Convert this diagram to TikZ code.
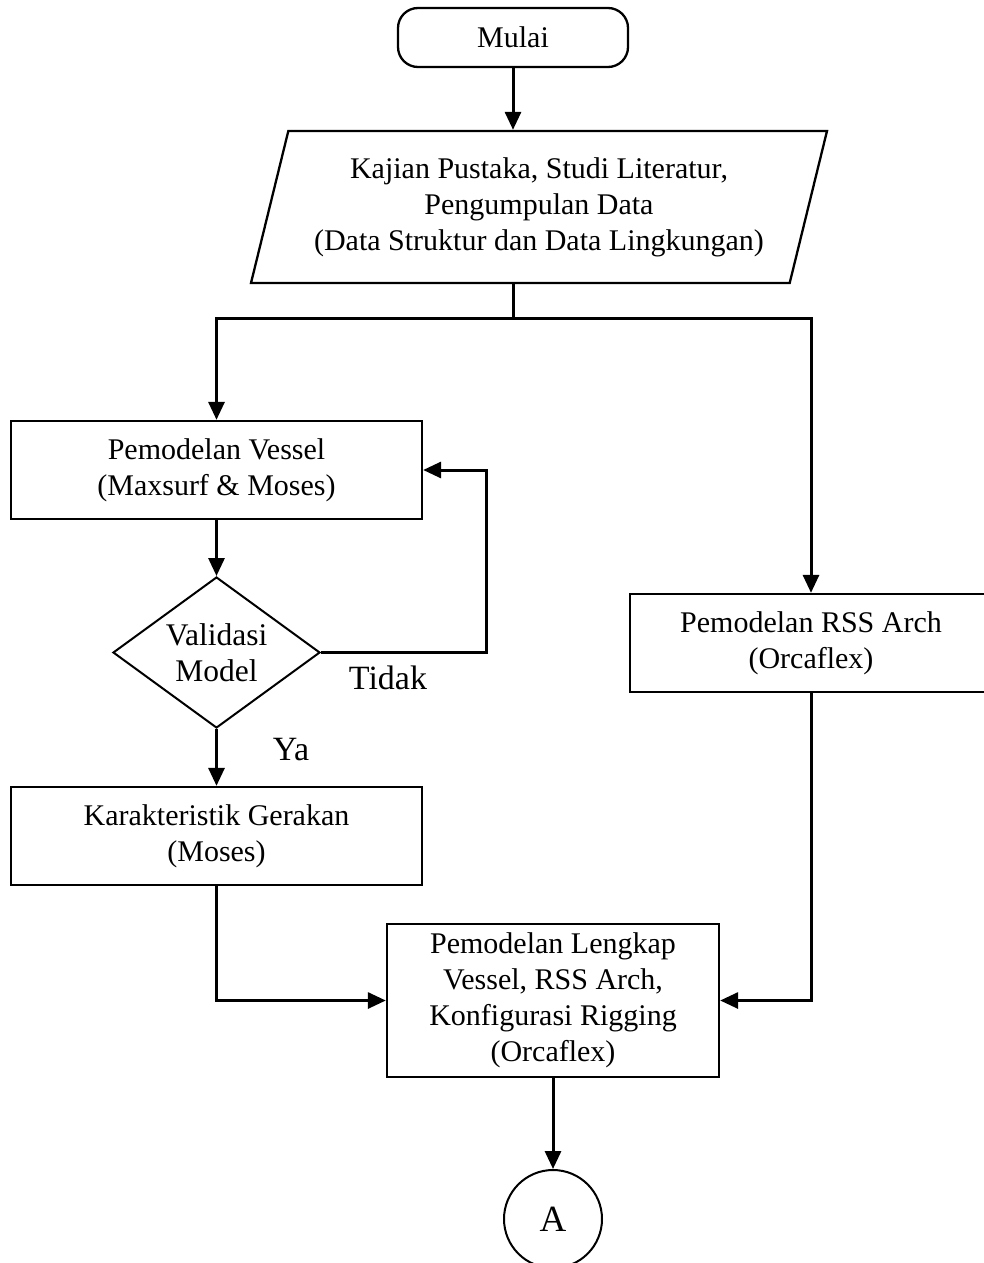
\documentclass[tikz,border=0pt]{standalone}
\usepackage{fontspec}
\setmainfont{Liberation Serif}
\usepackage{tikz}
\usetikzlibrary{shapes.geometric, arrows.meta}
\tikzstyle{terminator} = [rectangle, rounded corners=20pt, minimum width=230pt, minimum height=59pt, text centered, draw=black, line width=2.3pt]
\tikzstyle{io} = [trapezium, trapezium left angle=69.4, trapezium right angle=110.6, trapezium stretches body, minimum width=576pt, minimum height=152pt, inner sep=0pt, align=center, draw=black, line width=2.3pt]
\tikzstyle{process} = [rectangle, minimum height=98pt, align=center, draw=black, line width=2.3pt]
\tikzstyle{decision} = [diamond, aspect=1.37, minimum width=207pt, minimum height=151pt, inner sep=0pt, align=center, draw=black, line width=2pt, font=\fontsize{31.5}{36}\selectfont]
\tikzstyle{onpage} = [circle, minimum size=98pt, inner sep=0pt, draw=black, line width=2pt, font=\fontsize{37}{40}\selectfont]
\tikzstyle{branch} = [font=\fontsize{34}{40}\selectfont]
\tikzstyle{arrow} = [line width=3pt, -{Triangle[length=18pt,width=16pt]}]
\tikzstyle{line} = [line width=3pt]

\begin{document}
\begin{tikzpicture}[x=1pt, y=-1pt, font=\fontsize{30}{36}\selectfont]
	\useasboundingbox (0,0) rectangle (984,1263);
	\node(mulai) [terminator] at (513,37.5) {Mulai};
	\node(kajian_pustaka) [io] at (539,207) {Kajian Pustaka, Studi Literatur,\\Pengumpulan Data\\(Data Struktur dan Data Lingkungan)};
	\coordinate(split) at (513,318);
	\node(pemodelan_vessel) [process, minimum width=411pt] at (216.5,470) {Pemodelan Vessel\\(Maxsurf \& Moses)};
	\node(validasi_model) [decision] at (216.5,652.5) {Validasi\\Model};
	\coordinate(loop_corner) at (486,652.5);
	\node(tidak) [branch] at (388,678) {Tidak};
	\node(ya) [branch] at (291,750) {Ya};
	\node(karakteristik_gerakan) [process, minimum width=411pt] at (216.5,836) {Karakteristik Gerakan\\(Moses)};
	\node(pemodelan_rss) [process, minimum width=362pt] at (811,643) {Pemodelan RSS Arch\\(Orcaflex)};
	\node(pemodelan_lengkap) [process, minimum width=332pt, minimum height=153pt] at (553,1000.5) {Pemodelan Lengkap\\Vessel, RSS Arch,\\Konfigurasi Rigging\\(Orcaflex)};
	\node(konektor_a) [onpage] at (553,1219) {A};
	
	\draw[arrow] (mulai.south) -- (mulai.south |- kajian_pustaka.north);
	\draw[line] (split |- kajian_pustaka.south) -- (split);
	\draw[arrow] (split) -| (pemodelan_vessel.north);
	\draw[arrow] (split) -| (pemodelan_rss.north);
	\draw[arrow] (pemodelan_vessel) -- (validasi_model);
	\draw[arrow] (validasi_model.east) -- (loop_corner) |- (pemodelan_vessel.east);
	\draw[arrow] (validasi_model) -- (karakteristik_gerakan);
	\draw[arrow] (karakteristik_gerakan.south) |- (pemodelan_lengkap.west);
	\draw[arrow] (pemodelan_rss.south) |- (pemodelan_lengkap.east);
	\draw[arrow] (pemodelan_lengkap) -- (konektor_a);
\end{tikzpicture}
\end{document}
